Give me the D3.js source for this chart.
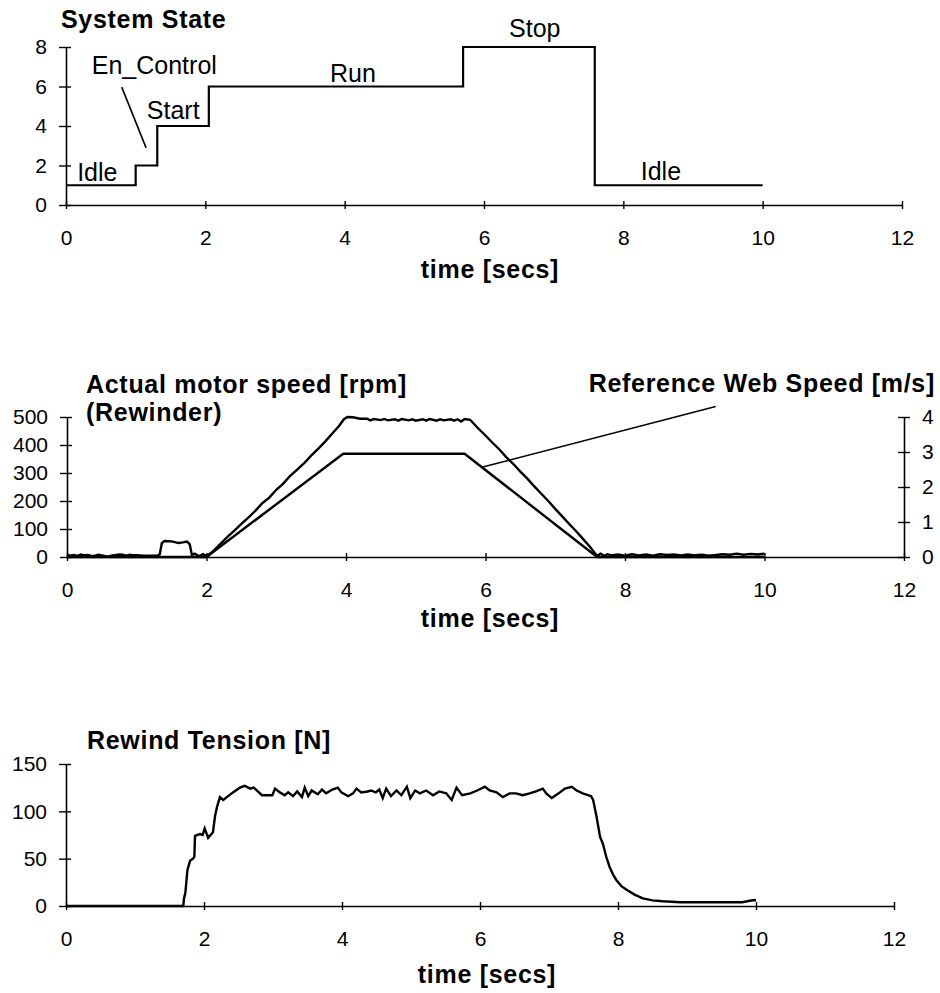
<!DOCTYPE html>
<html><head><meta charset="utf-8">
<script src="https://cdn.jsdelivr.net/npm/d3@7"></script>
<style>
body{margin:0;background:#fff}
svg{display:block}
text{font-family:"Liberation Sans",Arial,Helvetica,sans-serif;fill:#000}
</style>
</head><body>
<svg id="c" width="940" height="993"></svg>
<script>
// ---------- DATA ----------
const xTicks = [0, 2, 4, 6, 8, 10, 12];
const xTickLabels = ["0", "2", "4", "6", "8", "10", "12"];
const xLabel = "time [secs]";

// Panel 1: System State (step)
const stateTicks = [0, 2, 4, 6, 8];
const stateTimes = [0, 1.0, 1.31, 2.05, 5.70, 7.59, 10.0];
const stateValues = [1, 2, 4, 6, 8, 1, 1];
const stateLabels = ["Idle", "En_Control", "Start", "Run", "Stop", "Idle"];
const stateLabelT = [0.16, 0.37, 1.16, 3.79, 6.36, 8.25];
const stateLabelV = [1.22, 6.63, 4.35, 6.23, 8.5, 1.27];
const enControlLeaderT = [0.80, 1.15];
const enControlLeaderV = [5.97, 2.89];

// Panel 2: motor speed [rpm] and reference web speed [m/s]
const rpmTicks = [0, 100, 200, 300, 400, 500];
const webTicks = [0, 1, 2, 3, 4];
const motorSeries = [
  [0.00,8],[0.05,5],[0.10,7],[0.15,4],[0.20,9],[0.25,6],[0.30,7],[0.35,4],[0.40,5],[0.45,8],
  [0.50,6],[0.55,3],[0.60,2],[0.65,6],[0.70,7],[0.75,9],[0.80,8],[0.85,5],[0.90,8],[0.95,6],
  [1.00,6],[1.10,5],[1.20,5],[1.30,5],[1.33,10],[1.36,50],[1.40,57],[1.50,56],[1.56,52],
  [1.60,50],[1.66,52],[1.72,55],[1.76,45],[1.79,8],[1.83,12],[1.87,6],[1.91,5],[1.95,10],[2.00,3],
  [2.10,22],[2.20,47],[2.30,72],[2.40,94],[2.50,118],[2.60,141],[2.70,165],[2.80,192],[2.90,212],
  [3.00,240],[3.10,262],[3.20,290],[3.30,312],[3.40,335],[3.50,362],[3.60,386],[3.70,412],
  [3.80,440],[3.90,468],[3.97,492],[4.02,500],[4.10,499],[4.20,494],[4.30,494],[4.35,488],
  [4.40,493],[4.50,489],[4.55,493],[4.60,488],[4.70,492],[4.75,487],[4.80,493],[4.90,488],
  [4.95,492],[5.00,487],[5.10,492],[5.15,487],[5.20,493],[5.30,487],[5.35,492],[5.40,488],
  [5.50,492],[5.55,487],[5.60,492],[5.65,484],[5.70,493],[5.78,490],[5.90,458],[6.00,434],
  [6.10,408],[6.20,384],[6.30,356],[6.40,332],[6.50,305],[6.60,280],[6.70,252],[6.80,226],
  [6.90,200],[7.00,172],[7.10,145],[7.20,118],[7.30,92],[7.40,64],[7.50,36],[7.60,4],
  [7.65,12],[7.70,4],[7.75,10],[7.80,6],[7.90,9],[8.00,5],[8.10,10],[8.20,6],[8.30,9],
  [8.40,5],[8.50,10],[8.60,7],[8.70,9],[8.80,6],[8.90,9],[9.00,6],[9.10,8],[9.20,5],
  [9.30,7],[9.40,10],[9.50,8],[9.60,12],[9.70,8],[9.80,11],[9.90,9],[10.00,12]
];
const webSpeedTimes = [0, 2.0, 3.96, 5.70, 7.60, 10.0];
const webSpeedValues = [0, 0, 2.95, 2.95, 0, 0];
const webLeaderT = [5.96, 9.30];
const webLeaderV = [2.57, 4.30];

// Panel 3: Rewind tension [N]
const tensionTicks = [0, 50, 100, 150];
const tensionSeries = [
  [0,0],[1.70,0],[1.71,8],[1.73,14],[1.75,30],[1.76,38],[1.80,48],[1.84,50],[1.86,52],[1.87,74],
  [1.94,76],[1.98,75],[2.01,82],[2.06,72],[2.13,78],[2.16,95],[2.19,105],[2.23,115],[2.28,112],
  [2.33,115],[2.42,120],[2.52,125],[2.59,127],[2.67,124],[2.72,125],[2.84,117],[2.99,117],
  [3.03,124],[3.10,120],[3.17,117],[3.22,120],[3.29,116],[3.35,121],[3.42,115],[3.46,125],
  [3.51,116],[3.56,122],[3.65,118],[3.71,123],[3.77,119],[3.86,123],[3.94,125],[3.99,120],
  [4.09,116],[4.16,119],[4.21,124],[4.28,120],[4.37,121],[4.42,122],[4.49,120],[4.54,123],
  [4.59,114],[4.64,124],[4.71,116],[4.79,122],[4.86,117],[4.94,126],[4.99,114],[5.06,122],
  [5.13,119],[5.22,122],[5.32,117],[5.41,121],[5.51,119],[5.59,112],[5.66,125],[5.74,117],
  [5.86,119],[5.96,122],[6.07,126],[6.14,122],[6.24,120],[6.33,115],[6.43,119],[6.52,119],
  [6.62,117],[6.72,119],[6.81,121],[6.91,124],[6.96,119],[7.04,114],[7.14,119],[7.23,124],
  [7.33,126],[7.40,122],[7.49,119],[7.61,116],[7.64,112],[7.69,94],[7.74,73],[7.78,66],
  [7.83,52],[7.88,41],[7.93,33],[7.98,27],[8.05,21],[8.13,17],[8.24,12],[8.36,8],[8.50,6],
  [8.65,5],[8.90,4],[9.20,4],[9.50,4],[9.80,4],[9.95,6],[10.0,6]
];

// ---------- DRAWING ----------
const svg = d3.select("#c");
const FONT = '"Liberation Sans",Arial,Helvetica,sans-serif';

function styleAxis(a) {
  a.attr("font-family", FONT).attr("font-size", 21);
  a.select(".domain").attr("stroke", "#000").attr("stroke-width", 1.6);
  a.selectAll(".tick line").attr("stroke", "#000").attr("stroke-width", 1.4);
  a.selectAll(".tick text").attr("fill", "#000");
}
function drawXAxis(x, y0) {
  const ax = d3.axisBottom(x).tickValues(xTicks)
    .tickFormat((d, i) => xTickLabels[i])
    .tickSizeInner(4).tickSizeOuter(0).tickPadding(21);
  const a = svg.append("g").attr("transform", `translate(0,${y0})`).call(ax);
  styleAxis(a);
  a.selectAll(".tick line").attr("y1", -4);
  return a;
}
function drawYLeft(y, x0, ticks) {
  const ax = d3.axisLeft(y).tickValues(ticks).tickFormat(d3.format("d"))
    .tickSizeInner(7).tickSizeOuter(0).tickPadding(12);
  const a = svg.append("g").attr("transform", `translate(${x0},0)`).call(ax);
  styleAxis(a);
  a.selectAll(".tick line").attr("x1", 5);
  return a;
}
function drawYRight(y, x0, ticks) {
  const ax = d3.axisRight(y).tickValues(ticks).tickFormat(d3.format("d"))
    .tickSizeInner(6).tickSizeOuter(0).tickPadding(12);
  const a = svg.append("g").attr("transform", `translate(${x0},0)`).call(ax);
  styleAxis(a);
  a.selectAll(".tick line").attr("x1", -6);
  return a;
}
function boldText(txt, x, y, anchor) {
  svg.append("text").attr("x", x).attr("y", y)
    .attr("font-size", 25).attr("font-weight", "bold")
    .attr("letter-spacing", 0.7)
    .attr("text-anchor", anchor || "start").text(txt);
}
function plainText(txt, x, y) {
  svg.append("text").attr("x", x).attr("y", y).attr("font-size", 25).text(txt);
}

// ---- Panel 1 ----
{
  const x = d3.scaleLinear().domain([0, 12]).range([66, 902]);
  const y = d3.scaleLinear().domain([0, 8]).range([205, 47]);
  drawXAxis(x, y(0));
  drawYLeft(y, x(0), stateTicks);
  const line = d3.line().x(d => x(d[0])).y(d => y(d[1])).curve(d3.curveStepAfter);
  svg.append("path").datum(d3.zip(stateTimes, stateValues))
    .attr("d", line).attr("fill", "none").attr("stroke", "#000").attr("stroke-width", 2.2);
  stateLabels.forEach((s, i) => plainText(s, x(stateLabelT[i]), y(stateLabelV[i])));
  svg.append("line")
    .attr("x1", x(enControlLeaderT[0])).attr("y1", y(enControlLeaderV[0]))
    .attr("x2", x(enControlLeaderT[1])).attr("y2", y(enControlLeaderV[1]))
    .attr("stroke", "#000").attr("stroke-width", 1.6);
  boldText("System State", 61, 28);
  boldText(xLabel, 490, 278, "middle");
}

// ---- Panel 2 ----
{
  const x = d3.scaleLinear().domain([0, 12]).range([67, 904]);
  const yL = d3.scaleLinear().domain([0, 500]).range([557, 417]);
  const yR = d3.scaleLinear().domain([0, 4]).range([557, 417]);
  drawXAxis(x, yL(0));
  drawYLeft(yL, x(0), rpmTicks);
  drawYRight(yR, x(12), webTicks);
  svg.append("path").datum(d3.zip(webSpeedTimes, webSpeedValues))
    .attr("d", d3.line().x(d => x(d[0])).y(d => yR(d[1])))
    .attr("fill", "none").attr("stroke", "#000").attr("stroke-width", 2.4);
  svg.append("path").datum(motorSeries)
    .attr("d", d3.line().x(d => x(d[0])).y(d => yL(d[1])))
    .attr("fill", "none").attr("stroke", "#000").attr("stroke-width", 2.4);
  svg.append("line")
    .attr("x1", x(webLeaderT[0])).attr("y1", yR(webLeaderV[0]))
    .attr("x2", x(webLeaderT[1])).attr("y2", yR(webLeaderV[1]))
    .attr("stroke", "#000").attr("stroke-width", 1.6);
  boldText("Actual motor speed [rpm]", 86, 393);
  boldText("(Rewinder)", 86, 421);
  boldText("Reference Web Speed [m/s]", 935, 392, "end");
  boldText(xLabel, 490, 627, "middle");
}

// ---- Panel 3 ----
{
  const x = d3.scaleLinear().domain([0, 12]).range([66, 894]);
  const y = d3.scaleLinear().domain([0, 150]).range([906, 764]);
  drawXAxis(x, y(0));
  drawYLeft(y, x(0), tensionTicks);
  svg.append("path").datum(tensionSeries)
    .attr("d", d3.line().x(d => x(d[0])).y(d => y(d[1])))
    .attr("fill", "none").attr("stroke", "#000").attr("stroke-width", 2.4);
  boldText("Rewind Tension [N]", 87, 749);
  boldText(xLabel, 487, 983, "middle");
}
</script>
</body></html>
